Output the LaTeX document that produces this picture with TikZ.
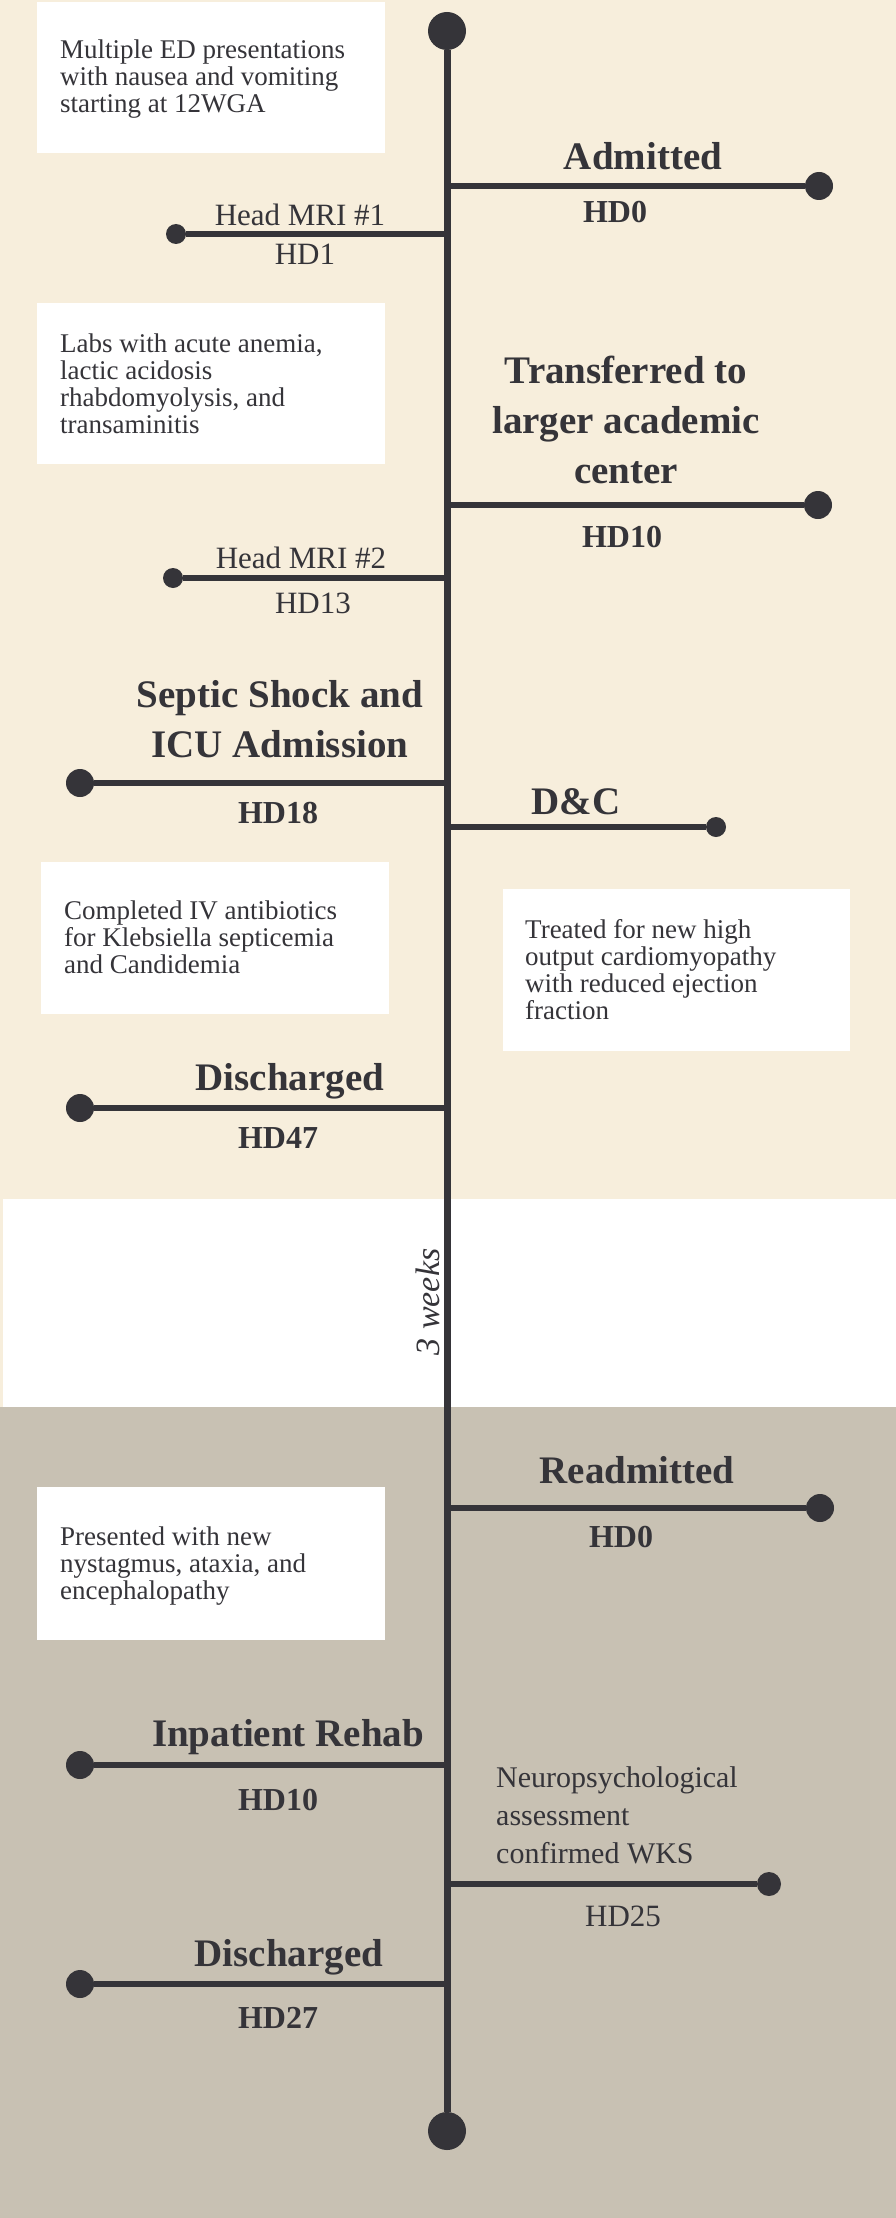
\documentclass[tikz,border=0pt]{standalone}
\usepackage{fontspec}
\setmainfont{Liberation Serif}
\definecolor{beige}{HTML}{F7EEDC}
\definecolor{greybg}{HTML}{C8C1B3}
\definecolor{ink}{HTML}{353439}
\newcommand\lnsL[1]{\vtop{\halign{##\hfil\cr#1\crcr}}}
\newcommand\lnsC[1]{\vtop{\halign{\hfil##\hfil\cr#1\crcr}}}
\tikzset{
  wbox/.style={rectangle, fill=white, draw=none, inner sep=0pt},
  bigdot/.style={circle, fill=ink, inner sep=0pt, minimum size=38pt},
  meddot/.style={circle, fill=ink, inner sep=0pt, minimum size=28pt},
  smalldot/.style={circle, fill=ink, inner sep=0pt, minimum size=20pt},
  mainline/.style={draw=ink, line width=7pt},
  branch/.style={draw=ink, line width=5.5pt},
  boxtext/.style={text=ink, inner sep=0pt, anchor=base west, font=\fontsize{27}{27}\selectfont},
  title/.style={text=ink, inner sep=0pt, anchor=base, font=\bfseries\fontsize{39}{50}\selectfont},
  hdb/.style={text=ink, inner sep=0pt, anchor=base, font=\bfseries\fontsize{32}{32}\selectfont},
  reg/.style={text=ink, inner sep=0pt, anchor=base, font=\fontsize{31}{31}\selectfont},
  neuro/.style={text=ink, inner sep=0pt, anchor=base west, font=\fontsize{30}{38}\selectfont},
}
\begin{document}
\begin{tikzpicture}[x=1pt, y=-1pt]
\useasboundingbox (0,0) rectangle (896,2218);
% backgrounds
\fill[beige] (0,0) rectangle (896,1199);
\fill[beige] (0,1199) rectangle (3,1407);
\fill[white] (3,1199) rectangle (896,1407);
\fill[greybg] (0,1407) rectangle (896,2218);

% white boxes
\node[wbox, minimum width=348pt, minimum height=151pt] (b1) at (211,77.5) {};
\node[wbox, minimum width=348pt, minimum height=161pt] (b2) at (211,383.5) {};
\node[wbox, minimum width=348pt, minimum height=152pt] (b3) at (215,938) {};
\node[wbox, minimum width=347pt, minimum height=162pt] (b4) at (676.5,970) {};
\node[wbox, minimum width=348pt, minimum height=153pt] (b5) at (211,1563.5) {};

% box texts
\node[boxtext] (t1) at (60,59) {\lnsL{Multiple ED presentations\cr with nausea and vomiting\cr starting at 12WGA}};
\node[boxtext] (t2) at (60,352) {\lnsL{Labs with acute anemia,\cr lactic acidosis\cr rhabdomyolysis, and\cr transaminitis}};
\node[boxtext] (t3) at (64,919) {\lnsL{Completed IV antibiotics\cr for Klebsiella septicemia\cr and Candidemia}};
\node[boxtext] (t4) at (525,938) {\lnsL{Treated for new high\cr output cardiomyopathy\cr with reduced ejection\cr fraction}};
\node[boxtext] (t5) at (60,1545) {\lnsL{Presented with new\cr nystagmus, ataxia, and\cr encephalopathy}};

% main timeline
\node[bigdot] (top) at (447,31) {};
\node[bigdot] (bot) at (447,2131) {};
\draw[mainline] (top) -- (bot);

% junctions on the main line
\coordinate (j1) at (447,186);
\coordinate (j2) at (447,234);
\coordinate (j3) at (447,505);
\coordinate (j4) at (447,578);
\coordinate (j5) at (447,783);
\coordinate (j6) at (447,827);
\coordinate (j7) at (447,1108);
\coordinate (j8) at (447,1508);
\coordinate (j9) at (447,1765);
\coordinate (j10) at (447,1884);
\coordinate (j11) at (447,1984);

% end dots
\node[meddot] (d1) at (819,186) {};
\node[smalldot] (d2) at (176,234) {};
\node[meddot] (d3) at (818,505) {};
\node[smalldot] (d4) at (173,578) {};
\node[meddot] (d5) at (80,783) {};
\node[smalldot] (d6) at (716,827) {};
\node[meddot] (d7) at (80,1108) {};
\node[meddot] (d8) at (820,1508) {};
\node[meddot] (d9) at (80,1765) {};
\node[smalldot, minimum size=24pt] (d10) at (769,1884) {};
\node[meddot] (d11) at (80,1984) {};

\foreach \i in {1,...,11} { \draw[branch] (j\i) -- (d\i); }

% labels
\node[title] (l1) at (643,170) {Admitted};
\node[hdb] (h1) at (615,223) {HD0};
\node[reg] (l2) at (300,226) {Head MRI \#1};
\node[reg] (h2) at (305,265) {HD1};
\node[title] (l3) at (626,383) {\lnsC{Transferred to\cr larger academic\cr center}};
\node[hdb] (h3) at (622,547) {HD10};
\node[reg] (l4) at (301,568) {Head MRI \#2};
\node[reg] (h4) at (313,613) {HD13};
\node[title] (l5) at (280,707) {\lnsC{Septic Shock and\cr ICU Admission}};
\node[hdb] (h5) at (278,823) {HD18};
\node[title] (l6) at (576,814) {D\&C};
\node[title] (l7) at (290,1090) {Discharged};
\node[hdb] (h7) at (278,1148) {HD47};
\node[text=ink, inner sep=0pt, rotate=90, font=\itshape\fontsize{34}{34}\selectfont] (gap) at (428,1302) {3 weeks};
\node[title] (l8) at (637,1483) {Readmitted};
\node[hdb] (h8) at (621,1547) {HD0};
\node[title] (l9) at (288,1746) {Inpatient Rehab};
\node[hdb] (h9) at (278,1810) {HD10};
\node[neuro] (l10) at (496,1787) {\lnsL{Neuropsychological\cr assessment\cr confirmed WKS}};
\node[reg] (h10) at (623,1926) {HD25};
\node[title] (l11) at (289,1966) {Discharged};
\node[hdb] (h11) at (278,2028) {HD27};
\end{tikzpicture}
\end{document}
